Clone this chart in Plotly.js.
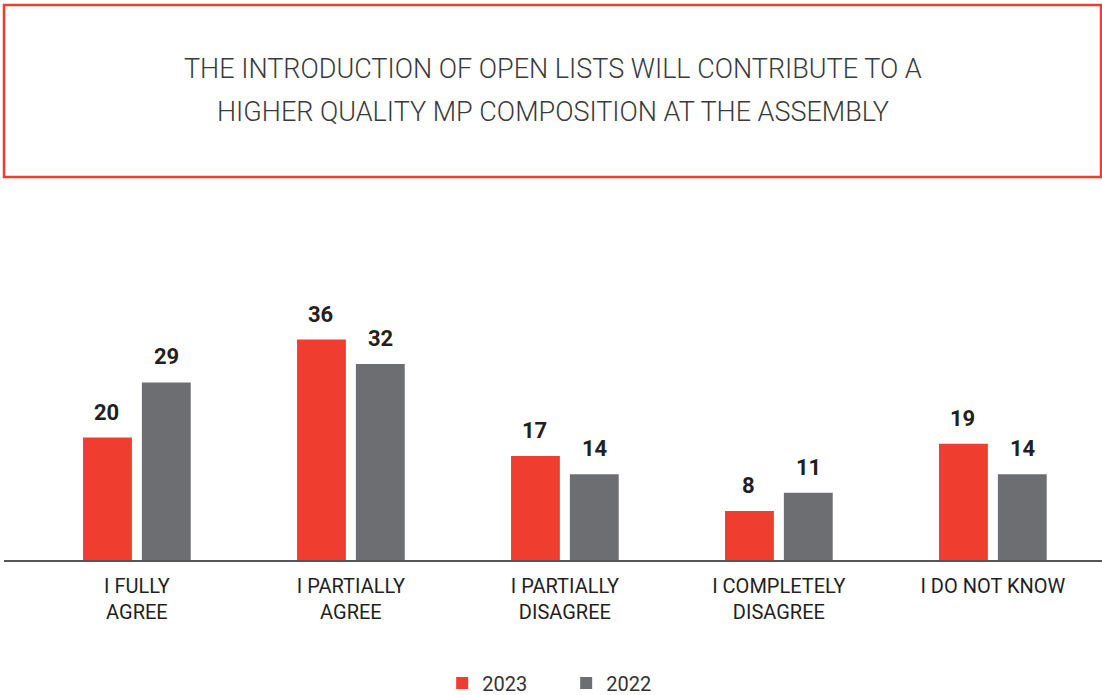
<!DOCTYPE html>
<html>
<head>
<meta charset="utf-8">
<script src="https://cdn.plot.ly/plotly-3.0.1.min.js"></script>
<style>html,body{margin:0;padding:0;background:#fff;}#chart{width:1102px;height:695px;}</style>
</head>
<body>
<div id="chart"></div>
<script>
const categories = ["I FULLY<br>AGREE", "I PARTIALLY<br>AGREE", "I PARTIALLY<br>DISAGREE", "I COMPLETELY<br>DISAGREE", "I DO NOT KNOW"];
const series2023 = [20, 36, 17, 8, 19];
const series2022 = [29, 32, 14, 11, 14];
const seriesNames = ["2023", "2022"];
const titleLines = ["THE INTRODUCTION OF OPEN LISTS WILL CONTRIBUTE TO A", "HIGHER QUALITY MP COMPOSITION AT THE ASSEMBLY"];

const RED = "#EF3E2F", GRAY = "#6D6E71", DARK = "#231F20";

const traces = [
  {type: "bar", name: seriesNames[0], x: categories, y: series2023, marker: {color: RED}, hoverinfo: "none"},
  {type: "bar", name: seriesNames[1], x: categories, y: series2022, marker: {color: GRAY}, hoverinfo: "none"}
];

const annotations = [];
[series2023, series2022].forEach((vals, si) => {
  vals.forEach((v, i) => {
    annotations.push({
      x: categories[i], y: v, xref: "x", yref: "y",
      text: String(v), showarrow: false,
      xshift: si === 0 ? -30 : 30, yshift: 11, yanchor: "bottom",
      font: {family: "Roboto", size: 22, color: DARK, weight: 700}
    });
  });
});
const plotTop = 315, plotBottom = 560, plotH = plotBottom - plotTop;
titleLines.forEach((t, i) => {
  annotations.push({
    x: 0.5, xref: "paper", y: (plotBottom - (i === 0 ? 69 : 112)) / plotH, yref: "paper",
    text: t, showarrow: false, xanchor: "center", yanchor: "middle",
    font: {family: "Roboto", size: 27, color: "#3a3a3a", weight: 300}
  });
});

const layout = {
  width: 1102, height: 695,
  margin: {l: 4, r: 0, t: plotTop, b: 695 - plotBottom, pad: 0},
  paper_bgcolor: "#fff", plot_bgcolor: "#fff",
  showlegend: true,
  barmode: "group", bargap: 0.45, bargroupgap: 0.17,
  xaxis: {
    type: "category", range: [-0.621, 4.51],
    showline: true, linecolor: "#555", linewidth: 1.5,
    showgrid: false, zeroline: false, ticks: "",
    tickfont: {family: "Roboto", size: 20, color: DARK},
    ticklabelstandoff: 7, automargin: false
  },
  yaxis: {range: [0, 40], visible: false, showgrid: false, zeroline: false, fixedrange: true},
  legend: {
    orientation: "h", x: 0.512, xanchor: "center",
    yref: "container", y: 1 - 683 / 695, yanchor: "middle",
    font: {family: "Roboto", size: 20, color: "#333"}, entrywidth: 79
  },
  shapes: [{
    type: "rect", xref: "paper", yref: "paper",
    x0: 0, x1: (1101 - 4) / 1098, y0: (plotBottom - 177) / plotH, y1: (plotBottom - 5) / plotH,
    line: {color: RED, width: 2.5}, fillcolor: "rgba(0,0,0,0)"
  }],
  annotations: annotations
};

Plotly.newPlot("chart", traces, layout, {displayModeBar: false, staticPlot: true});
</script>
</body>
</html>
